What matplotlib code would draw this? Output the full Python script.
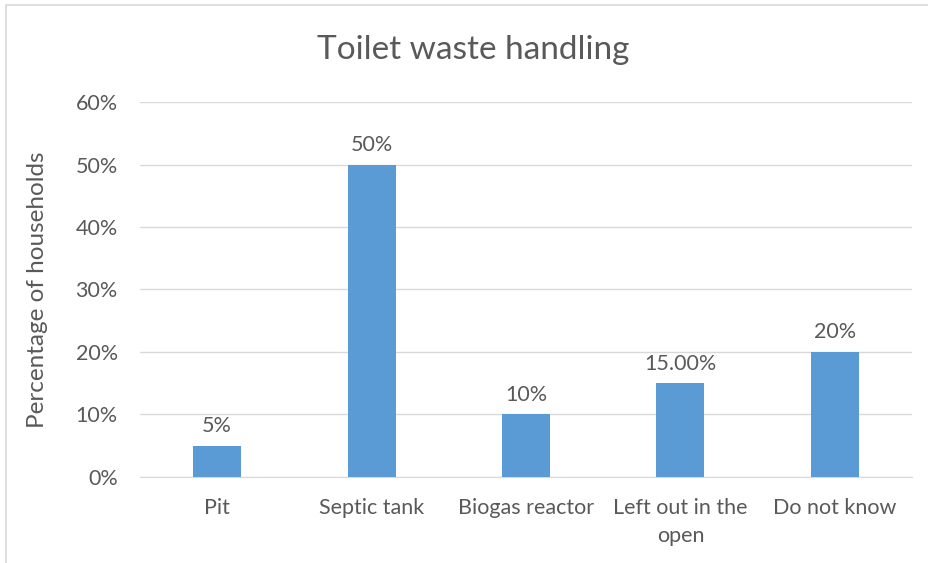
"""Toilet waste handling: share of households by disposal method."""

import matplotlib

matplotlib.use("Agg")
import matplotlib.pyplot as plt  # noqa: E402
from matplotlib.patches import Rectangle  # noqa: E402
from matplotlib.ticker import FuncFormatter  # noqa: E402

CATEGORIES = ["Pit", "Septic tank", "Biogas reactor", "Left out in the\nopen", "Do not know"]
SHARES = [0.05, 0.50, 0.10, 0.15, 0.20]
LABELS = ["5%", "50%", "10%", "15.00%", "20%"]
YTICKS = [0.0, 0.1, 0.2, 0.3, 0.4, 0.5, 0.6]

BAR_COLOR = "#5b9bd5"
TEXT_COLOR = "#595959"
GRID_COLOR = "#d9d9d9"

plt.rcParams["font.family"] = ["Lato", "DejaVu Sans"]

fig = plt.figure(figsize=(9.29, 5.63), dpi=100)
ax = fig.add_axes([0.1507, 0.1528, 0.831, 0.666])

# chart frame (only top and left edges visible in the original crop)
fig.patches.append(Rectangle((6 / 929, -0.1), 2.0, 1.1 - 5 / 563, transform=fig.transFigure,
                             fill=False, edgecolor="#d9d9d9", linewidth=1.2))

x = list(range(len(CATEGORIES)))
ax.bar(x, SHARES, width=0.31, color=BAR_COLOR, zorder=3)
for xi, v, lab in zip(x, SHARES, LABELS):
    ax.annotate(lab, xy=(xi, v), xytext=(0, 7), textcoords="offset points",
                ha="center", va="bottom", fontsize=15.5, color=TEXT_COLOR)

ax.set_xlim(-0.5, len(CATEGORIES) - 0.5)
ax.set_ylim(0, 0.6)
ax.set_yticks(YTICKS)
ax.yaxis.set_major_formatter(FuncFormatter(lambda v, _p: f"{v * 100:.0f}%"))
ax.set_xticks(x)
ax.set_xticklabels(CATEGORIES, linespacing=1.5)
ax.tick_params(axis="both", length=0, labelsize=15.5, colors=TEXT_COLOR)
ax.tick_params(axis="x", pad=15)
ax.tick_params(axis="y", pad=16)
ax.grid(True, axis="y", color=GRID_COLOR, linewidth=1.0, zorder=0)
for side in ("top", "right", "left"):
    ax.spines[side].set_visible(False)
ax.spines["bottom"].set_color(GRID_COLOR)

ax.set_ylabel("Percentage of households", fontsize=17.5, color=TEXT_COLOR, labelpad=20)
fig.text(473 / 929, 1 - 50 / 563, "Toilet waste handling", ha="center", va="center",
         fontsize=24, color=TEXT_COLOR)

fig.savefig("out.png", dpi=100)
